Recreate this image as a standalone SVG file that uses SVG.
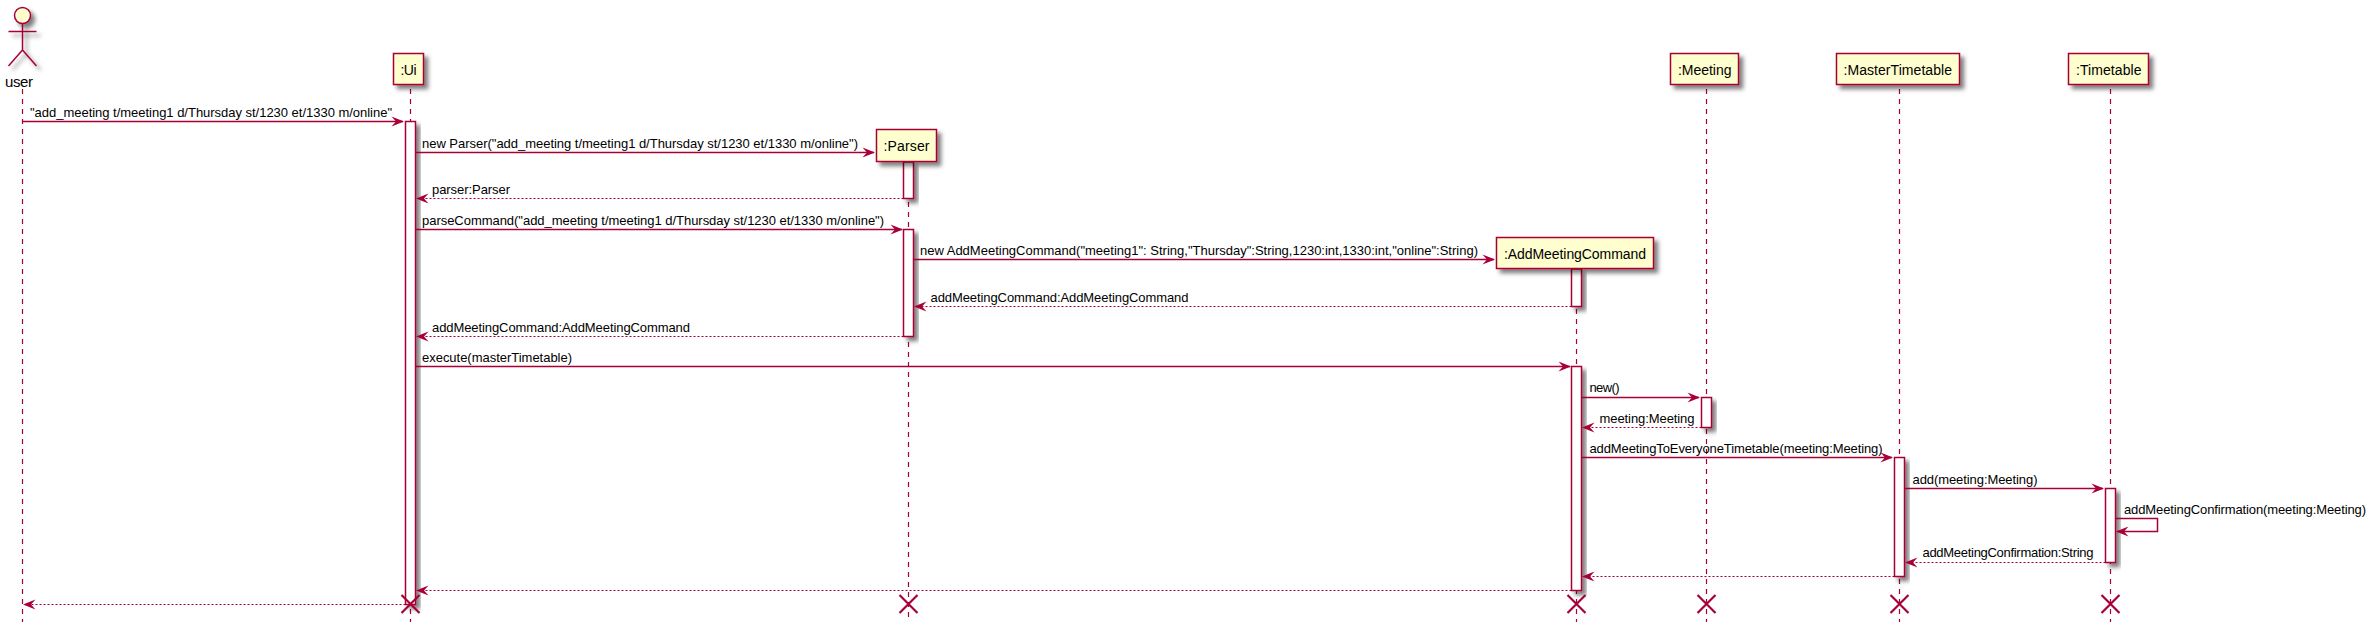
<svg xmlns="http://www.w3.org/2000/svg" width="2371" height="628" viewBox="0 0 2371 628">
<style>
text{font-family:"Liberation Sans",Arial,sans-serif;fill:#000}
.m{font-size:13px}
.n{font-size:14px}
.u{font-size:15px}
.box{fill:#FEFECE;stroke:#A80036;stroke-width:1.5}
.act{fill:#fff;stroke:#A80036;stroke-width:1.5}
.life{stroke:#A80036;stroke-width:1.2;stroke-dasharray:5 5;fill:none}
.s{stroke:#A80036;stroke-width:1.5;fill:none}
.d{stroke:#A80036;stroke-width:1.2;stroke-dasharray:2 2;fill:none}
.x{stroke:#A80036;stroke-width:2.2;fill:none}
.h{fill:#A80036}
</style>
<defs>
<filter id="sh" x="-50%" y="-50%" width="200%" height="200%"><feDropShadow dx="4" dy="4" stdDeviation="2" flood-color="#000" flood-opacity="0.5"/></filter>
<path id="ar" d="M0 0L-12.5 -5L-8 0L-12.5 5Z"/>
<path id="al" d="M0 0L12.5 -5L8 0L12.5 5Z"/>
</defs>
<g id="lifelines">
<line class="life" x1="22.5" y1="89" x2="22.5" y2="622"/>
<line class="life" x1="410.5" y1="89" x2="410.5" y2="622"/>
<line class="life" x1="908.5" y1="162" x2="908.5" y2="622"/>
<line class="life" x1="1576.5" y1="269" x2="1576.5" y2="622"/>
<line class="life" x1="1706.5" y1="89" x2="1706.5" y2="622"/>
<line class="life" x1="1899.5" y1="89" x2="1899.5" y2="622"/>
<line class="life" x1="2110.5" y1="89" x2="2110.5" y2="622"/>
</g>
<g id="activations">
<rect class="act" filter="url(#sh)" x="405.5" y="121.5" width="10" height="483"/>
<rect class="act" filter="url(#sh)" x="903.5" y="162" width="10" height="36.5"/>
<rect class="act" filter="url(#sh)" x="903.5" y="229.5" width="10" height="107"/>
<rect class="act" filter="url(#sh)" x="1571.5" y="269" width="10" height="37.5"/>
<rect class="act" filter="url(#sh)" x="1571.5" y="366.5" width="10" height="224"/>
<rect class="act" filter="url(#sh)" x="1701.5" y="397.5" width="10" height="30"/>
<rect class="act" filter="url(#sh)" x="1894.5" y="457.5" width="10" height="119"/>
<rect class="act" filter="url(#sh)" x="2105.5" y="488.5" width="10" height="74"/>
</g>
<g id="connectors">
<line class="s" x1="22.5" y1="121.5" x2="403" y2="121.5"/><use href="#ar" class="h" x="404" y="121.5"/>
<line class="s" x1="415.5" y1="152.5" x2="874" y2="152.5"/><use href="#ar" class="h" x="875" y="152.5"/>
<line class="d" x1="903.5" y1="198.5" x2="417" y2="198.5"/><use href="#al" class="h" x="416" y="198.5"/>
<line class="s" x1="415.5" y1="229.5" x2="902" y2="229.5"/><use href="#ar" class="h" x="903" y="229.5"/>
<line class="s" x1="913.5" y1="259.5" x2="1494" y2="259.5"/><use href="#ar" class="h" x="1495" y="259.5"/>
<line class="d" x1="1571.5" y1="306.5" x2="915" y2="306.5"/><use href="#al" class="h" x="914" y="306.5"/>
<line class="d" x1="903.5" y1="336.5" x2="417" y2="336.5"/><use href="#al" class="h" x="416" y="336.5"/>
<line class="s" x1="415.5" y1="366.5" x2="1570" y2="366.5"/><use href="#ar" class="h" x="1571" y="366.5"/>
<line class="s" x1="1581.5" y1="397.5" x2="1699" y2="397.5"/><use href="#ar" class="h" x="1700" y="397.5"/>
<line class="d" x1="1701.5" y1="427.5" x2="1583" y2="427.5"/><use href="#al" class="h" x="1582" y="427.5"/>
<line class="s" x1="1581.5" y1="457.5" x2="1892" y2="457.5"/><use href="#ar" class="h" x="1893" y="457.5"/>
<line class="s" x1="1904.5" y1="488.5" x2="2103" y2="488.5"/><use href="#ar" class="h" x="2104" y="488.5"/>
<path class="s" d="M2115.5 518.5H2157.5V531.5H2117"/><use href="#al" class="h" x="2116" y="531.5"/>
<line class="d" x1="2105.5" y1="562.5" x2="1906" y2="562.5"/><use href="#al" class="h" x="1905" y="562.5"/>
<line class="d" x1="1894.5" y1="576.5" x2="1583" y2="576.5"/><use href="#al" class="h" x="1582" y="576.5"/>
<line class="d" x1="1571.5" y1="590.5" x2="417" y2="590.5"/><use href="#al" class="h" x="416" y="590.5"/>
<line class="d" x1="405.5" y1="604.5" x2="24" y2="604.5"/><use href="#al" class="h" x="23" y="604.5"/>
<path class="x" d="M401.5 595L419.5 613M419.5 595L401.5 613"/>
<path class="x" d="M899.5 595L917.5 613M917.5 595L899.5 613"/>
<path class="x" d="M1567.5 595L1585.5 613M1585.5 595L1567.5 613"/>
<path class="x" d="M1697.5 595L1715.5 613M1715.5 595L1697.5 613"/>
<path class="x" d="M1890.5 595L1908.5 613M1908.5 595L1890.5 613"/>
<path class="x" d="M2101.5 595L2119.5 613M2119.5 595L2101.5 613"/>
</g>
<g id="labels">
<text class="m" x="30" y="117" textLength="362">"add_meeting t/meeting1 d/Thursday st/1230 et/1330 m/online"</text>
<text class="m" x="422" y="148" textLength="436">new Parser("add_meeting t/meeting1 d/Thursday st/1230 et/1330 m/online")</text>
<text class="m" x="432" y="194" textLength="78">parser:Parser</text>
<text class="m" x="422" y="225" textLength="462">parseCommand("add_meeting t/meeting1 d/Thursday st/1230 et/1330 m/online")</text>
<text class="m" x="920" y="255" textLength="558">new AddMeetingCommand("meeting1": String,"Thursday":String,1230:int,1330:int,"online":String)</text>
<text class="m" x="930.5" y="302" textLength="258">addMeetingCommand:AddMeetingCommand</text>
<text class="m" x="432" y="332" textLength="258">addMeetingCommand:AddMeetingCommand</text>
<text class="m" x="422" y="362" textLength="150">execute(masterTimetable)</text>
<text class="m" x="1589.5" y="392" textLength="30">new()</text>
<text class="m" x="1599.5" y="423" textLength="95">meeting:Meeting</text>
<text class="m" x="1589.5" y="453" textLength="293">addMeetingToEveryoneTimetable(meeting:Meeting)</text>
<text class="m" x="1912.5" y="484" textLength="125">add(meeting:Meeting)</text>
<text class="m" x="2124" y="514" textLength="242">addMeetingConfirmation(meeting:Meeting)</text>
<text class="m" x="1922.5" y="557" textLength="171">addMeetingConfirmation:String</text>
</g>
<g id="user">
<circle class="box" filter="url(#sh)" cx="22.5" cy="15.5" r="8"/>
<path class="s" filter="url(#sh)" d="M22.5 23.5V50M8.5 31.5H36.5M22.5 50L8.5 66M22.5 50L36.5 66"/>
<text class="u" x="5" y="87" textLength="28">user</text>
</g>
<g id="ui"><rect class="box" filter="url(#sh)" x="393.5" y="53.5" width="30" height="31"/><text class="n" x="400.5" y="75" textLength="16">:Ui</text></g>
<g id="parser"><rect class="box" filter="url(#sh)" x="876.5" y="129.5" width="60" height="32"/><text class="n" x="883.5" y="151" textLength="46">:Parser</text></g>
<g id="addMeetingCommand"><rect class="box" filter="url(#sh)" x="1496.5" y="237.5" width="157" height="31"/><text class="n" x="1504" y="259" textLength="142">:AddMeetingCommand</text></g>
<g id="meeting"><rect class="box" filter="url(#sh)" x="1670.5" y="53.5" width="68" height="31"/><text class="n" x="1678" y="75" textLength="53.5">:Meeting</text></g>
<g id="masterTimetable"><rect class="box" filter="url(#sh)" x="1836.5" y="53.5" width="123" height="31"/><text class="n" x="1843.5" y="75" textLength="108.5">:MasterTimetable</text></g>
<g id="timetable"><rect class="box" filter="url(#sh)" x="2068.5" y="53.5" width="80" height="31"/><text class="n" x="2076" y="75" textLength="65.5">:Timetable</text></g>
</svg>
